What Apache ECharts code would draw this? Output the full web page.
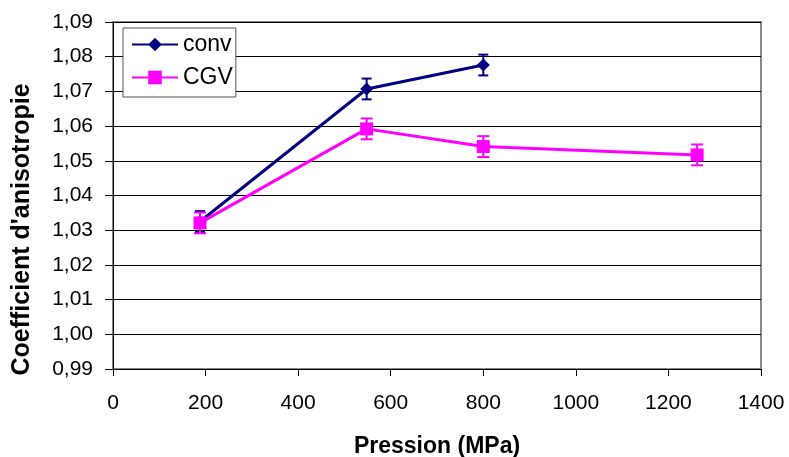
<!DOCTYPE html>
<html><head><meta charset="utf-8">
<script src="https://cdn.jsdelivr.net/npm/echarts@6/dist/echarts.min.js"></script>
<style>html,body{margin:0;padding:0;background:#fff}#c{width:789px;height:457px}</style>
</head><body><div id="c"></div>
<script>
const convX = [188, 548, 800];
const convY = [1.0325, 1.0707, 1.0776];
const convErr = [0.003, 0.003, 0.003];
const cgvX = [188, 548, 800, 1262];
const cgvY = [1.0321, 1.0592, 1.0541, 1.0517];
const cgvErr = [0.003, 0.003, 0.003, 0.003];

const chart = echarts.init(document.getElementById('c'));
const font = 'Liberation Sans, Arial, sans-serif';
function errSeries(xs, ys, es, color, half, z) {
  return {
    type: 'custom', silent: true, z: z,
    data: xs.map((x, i) => [x, ys[i] - es[i], ys[i] + es[i]]),
    renderItem: function (params, api) {
      const lo = api.coord([api.value(0), api.value(1)]);
      const hi = api.coord([api.value(0), api.value(2)]);
      const st = { stroke: color, lineWidth: 2 };
      return { type: 'group', children: [
        { type: 'line', shape: { x1: lo[0], y1: lo[1], x2: hi[0], y2: hi[1] }, style: st },
        { type: 'line', shape: { x1: lo[0] - half, y1: lo[1], x2: lo[0] + half, y2: lo[1] }, style: st },
        { type: 'line', shape: { x1: hi[0] - half, y1: hi[1], x2: hi[0] + half, y2: hi[1] }, style: st }
      ]};
    }
  };
}
chart.setOption({
  animation: false,
  backgroundColor: '#fff',
  grid: { left: 113, right: 28, top: 22, bottom: 88, containLabel: false, outerBoundsMode: 'none',
    show: true, borderColor: '#888', borderWidth: 2, backgroundColor: '#fff' },
  legend: {
    left: 123, top: 28, orient: 'vertical', itemGap: 10, itemWidth: 46, itemHeight: 17,
    padding: [5, 3, 8, 8], borderColor: '#555', borderWidth: 1, backgroundColor: '#fff',
    textStyle: { fontFamily: font, fontSize: 23, color: '#000' },
    data: [{ name: 'conv' }, { name: 'CGV' }]
  },
  xAxis: {
    type: 'value', min: 0, max: 1400, interval: 200,
    name: 'Pression (MPa)', nameLocation: 'middle', nameGap: 66,
    nameTextStyle: { fontFamily: font, fontSize: 23, fontWeight: 'bold', color: '#000' },
    axisLine: { lineStyle: { color: '#000', width: 1 } },
    axisTick: { show: true, length: 7, lineStyle: { color: '#000' } },
    axisLabel: { fontFamily: font, fontSize: 21, color: '#000', margin: 24, formatter: v => String(v) },
    splitLine: { show: false }
  },
  yAxis: {
    type: 'value', min: 0.99, max: 1.09, interval: 0.01,
    name: 'Coefficient d\'anisotropie', nameLocation: 'middle', nameGap: 78,
    nameTextStyle: { fontFamily: font, fontSize: 25, fontWeight: 'bold', color: '#000', padding: [0, 68, 0, 0] },
    axisLine: { show: true, lineStyle: { color: '#000', width: 1 } },
    axisTick: { show: true, length: 8, lineStyle: { color: '#000' } },
    axisLabel: { fontFamily: font, fontSize: 21, color: '#000', margin: 20,
      formatter: v => v.toFixed(2).replace('.', ',') },
    splitLine: { show: true, lineStyle: { color: '#000', width: 1 } }
  },
  series: [
    errSeries(convX, convY, convErr, '#000080', 5, 1),
    errSeries(cgvX, cgvY, cgvErr, '#FF00FF', 6, 3),
    { name: 'conv', type: 'line', data: convX.map((x, i) => [x, convY[i]]),
      symbol: 'diamond', symbolSize: 13, z: 2,
      lineStyle: { color: '#000080', width: 3 }, itemStyle: { color: '#000080' } },
    { name: 'CGV', type: 'line', data: cgvX.map((x, i) => [x, cgvY[i]]),
      symbol: 'rect', symbolSize: 13, z: 4,
      lineStyle: { color: '#FF00FF', width: 3 }, itemStyle: { color: '#FF00FF' } }
  ]
});
</script></body></html>
